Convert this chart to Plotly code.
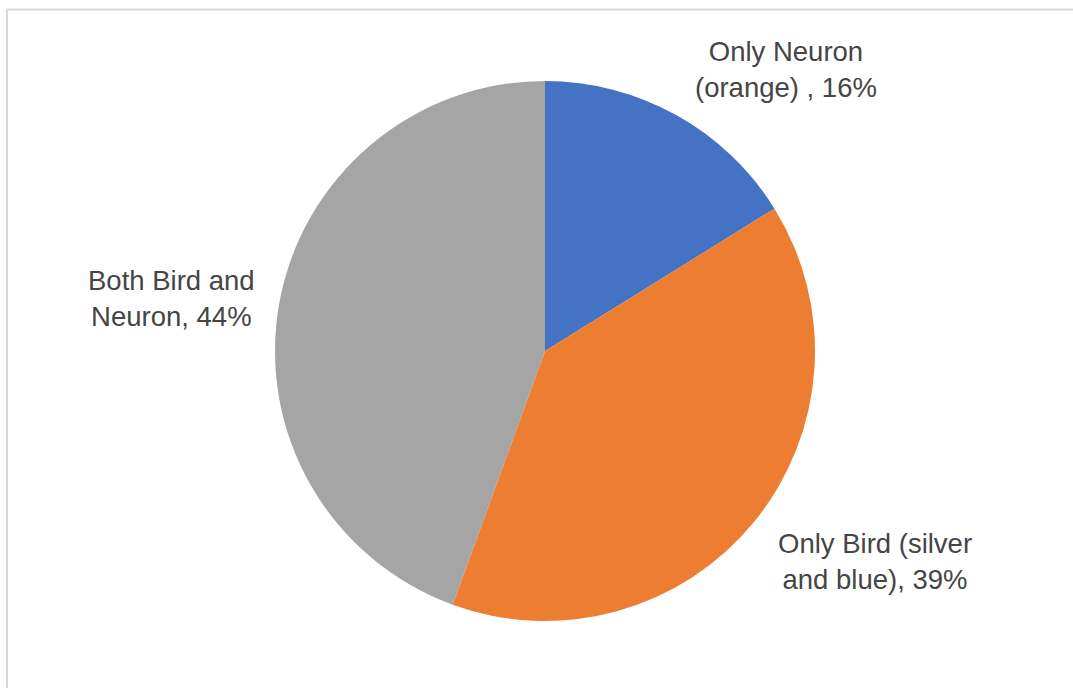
import plotly.graph_objects as go

# Share of items in each group
categories = ["Only Neuron (orange) ", "Only Bird (silver and blue)", "Both Bird and Neuron"]
label_lines = [["Only Neuron", "(orange) , "], ["Only Bird (silver", "and blue), "], ["Both Bird and", "Neuron, "]]
values = [16, 39, 44]
colors = ["#4472C4", "#ED7D31", "#A5A5A5"]

W, H = 1073, 688
cx, cy, r = 545, 351, 270

fig = go.Figure(
    go.Pie(
        labels=categories,
        values=values,
        sort=False,
        direction="clockwise",
        rotation=0,
        marker=dict(colors=colors, line=dict(width=0)),
        textinfo="none",
        hoverinfo="label+percent",
        showlegend=False,
        domain=dict(x=[(cx - r) / W, (cx + r) / W], y=[1 - (cy + r) / H, 1 - (cy - r) / H]),
    )
)

# Data labels placed beside their slices
total = sum(values)
label_pos = [(786, 70), (875, 561), (171, 298)]
for lines, v, (lx, ly) in zip(label_lines, values, label_pos):
    pct = round(v / total * 100)
    fig.add_annotation(
        x=lx / W, y=1 - ly / H, xref="paper", yref="paper",
        text=f"{lines[0]}<br>{lines[1]}{pct}%",
        showarrow=False, xanchor="center", yanchor="middle", align="center",
        font=dict(family="Liberation Sans, Arial, sans-serif", size=27.5, color="#454545"),
    )

# Chart-area frame
fig.add_shape(
    type="rect", xref="paper", yref="paper",
    x0=7 / W, x1=1.05, y0=-0.05, y1=1 - 9.5 / H,
    line=dict(color="#D9D9D9", width=2), fillcolor="rgba(0,0,0,0)", layer="below",
)

fig.update_layout(
    width=W, height=H,
    margin=dict(l=0, r=0, t=0, b=0),
    paper_bgcolor="white", plot_bgcolor="white",
)

fig.write_html("out.html")
